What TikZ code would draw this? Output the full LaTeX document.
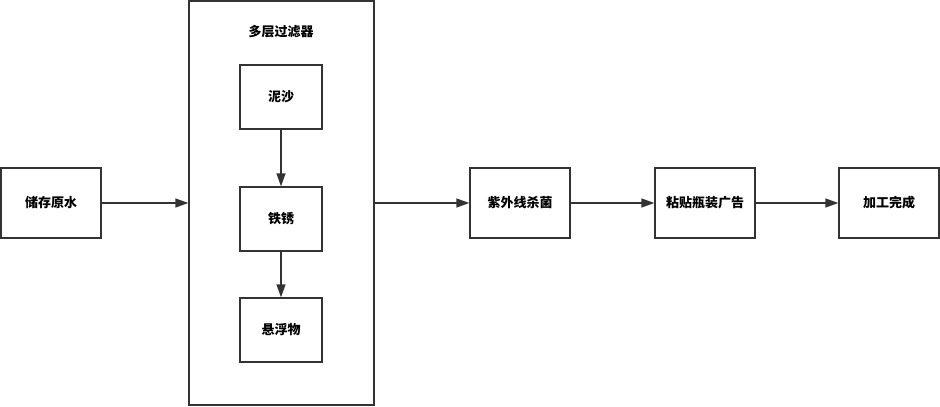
\documentclass[tikz,border=0pt]{standalone}
\usepackage{fontspec}
\setmainfont{Noto Sans CJK SC}
\usetikzlibrary{arrows.meta}
\tikzset{
  stepbox/.style={draw=black!80, line width=1.3pt, minimum width=100pt, minimum height=70pt,
    inner sep=0pt, font=\fontsize{13}{15}\selectfont\bfseries},
  layerbox/.style={stepbox, minimum width=82pt, minimum height=64pt},
  flow/.style={draw=black!80, line width=1.3pt, -{Triangle[length=13pt,width=9pt]}},
}

\begin{document}
\begin{tikzpicture}[x=1pt,y=-1pt]
  \useasboundingbox (0,0) rectangle (940,407);
  % Main row
  \node[stepbox] (store) at (51, 203) {储存原水};
  \node[stepbox, minimum width=185pt, minimum height=404pt] (filter) at (281.5, 203) {};
  \node[font=\fontsize{13}{15}\selectfont\bfseries] (filtertitle) at (281, 32) {多层过滤器};
  \node[stepbox] (uv) at (520, 203) {紫外线杀菌};
  \node[stepbox] (label) at (705, 203) {粘贴瓶装广告};
  \node[stepbox] (done) at (889, 203) {加工完成};

  % Filter layers
  \node[layerbox] (sand) at (281, 97) {泥沙};
  \node[layerbox] (rust) at (281, 219) {铁锈};
  \node[layerbox] (solids) at (281, 330) {悬浮物};

  \draw[flow] (store) -- (filter);
  \draw[flow] (filter) -- (uv);
  \draw[flow] (uv) -- (label);
  \draw[flow] (label) -- (done);
  \draw[flow] (sand) -- (rust);
  \draw[flow] (rust) -- (solids);
\end{tikzpicture}
\end{document}
